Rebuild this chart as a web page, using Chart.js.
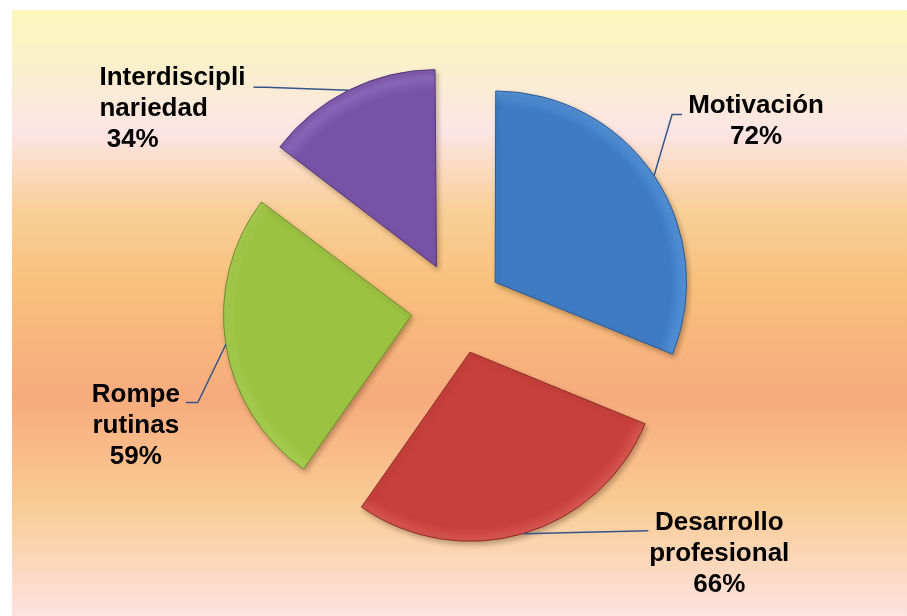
<!DOCTYPE html>
<html>
<head>
<meta charset="utf-8">
<script src="https://cdn.jsdelivr.net/npm/chart.js@4/dist/chart.umd.min.js"></script>
<style>
    html, body { margin: 0; padding: 0; background: #ffffff; }
    #wrap { width: 907px; height: 616px; position: relative; }
</style>
</head>
<body>
<div id="wrap"><canvas id="chartPie"></canvas></div>
<script>
var labels = ['Motivación', 'Desarrollo profesional', 'Rompe rutinas', 'Interdisciplinariedad'];
var values = [72, 66, 59, 34];
var nameLines = [['Motivación'], ['Desarrollo', 'profesional'], ['Rompe', 'rutinas'], ['Interdiscipli', 'nariedad']];

var fillColors = ['#3e7bc3', '#c8403b', '#9bc241', '#7852a6'];
var rimColors = ['#5290d6', '#d85752', '#abd255', '#8866b8'];
var edgeColors = ['#2c5c97', '#8e2b28', '#6c8c2c', '#533a78'];

// leader line and text placement, relative to the point on the arc
var labelPlace = [
    { elbow: [18, -61], end: [28, -61], text: [102, -63], align: 'center' },
    { elbow: null, end: [125, -3], text: [196, -4], align: 'center' },
    { elbow: [-28, 58], end: [-40, 58], text: [-90, 58], align: 'center' },
    { elbow: [-83, -3], end: [-95, -3], text: [-249, -5], align: 'left' }
];

var explode = 46;

function sliceFill(ctx) {
    var chart = ctx.chart;
    var area = chart.chartArea;
    var i = ctx.dataIndex;
    if (!area) return fillColors[i];
    var cx = (area.left + area.right) / 2;
    var cy = (area.top + area.bottom) / 2;
    var g = chart.ctx.createRadialGradient(cx, cy, 0, cx, cy, 200);
    g.addColorStop(0, fillColors[i]);
    g.addColorStop(0.88, fillColors[i]);
    g.addColorStop(0.95, rimColors[i]);
    g.addColorStop(1, fillColors[i]);
    return g;
}

var backdrop = {
    id: 'backdrop',
    beforeDraw: function(chart) {
        var c = chart.ctx;
        c.save();
        var g = c.createLinearGradient(0, 10, 0, 616);
        g.addColorStop(0, '#fbf7bc');
        g.addColorStop(0.08, '#faf1c8');
        g.addColorStop(0.2, '#fce5e5');
        g.addColorStop(0.33, '#f9cf98');
        g.addColorStop(0.45, '#f8c17c');
        g.addColorStop(0.64, '#f7ab7d');
        g.addColorStop(0.82, '#f9cc96');
        g.addColorStop(1, '#fde3df');
        c.fillStyle = g;
        c.fillRect(12, 10, 895, 606);
        c.restore();
    }
};

var shadow = {
    id: 'shadow',
    beforeDatasetsDraw: function(chart) {
        var c = chart.ctx;
        c.save();
        c.shadowColor = 'rgba(60, 30, 0, 0.3)';
        c.shadowBlur = 5;
        c.shadowOffsetX = 2;
        c.shadowOffsetY = 3;
    },
    afterDatasetsDraw: function(chart) {
        chart.ctx.restore();
    }
};

var calloutLabels = {
    id: 'calloutLabels',
    afterDatasetsDraw: function(chart) {
        var c = chart.ctx;
        var meta = chart.getDatasetMeta(0);
        c.save();
        c.font = 'bold 26px "Liberation Sans", Arial, sans-serif';
        c.fillStyle = '#000000';
        c.textBaseline = 'alphabetic';
        meta.data.forEach(function(arc, i) {
            var p = arc.getProps(['x', 'y', 'startAngle', 'endAngle', 'outerRadius', 'circumference'], true);
            var mid = (p.startAngle + p.endAngle) / 2;
            var shift = arc.options.offset / 4;
            var fix = 1 - Math.sin(Math.min(Math.PI, p.circumference));
            var r = p.outerRadius + shift * fix;
            var ax = p.x + Math.cos(mid) * (shift + r);
            var ay = p.y + Math.sin(mid) * (shift + r);
            var place = labelPlace[i];

            c.beginPath();
            c.strokeStyle = '#34548a';
            c.lineWidth = 1.5;
            c.moveTo(ax, ay);
            if (place.elbow) c.lineTo(ax + place.elbow[0], ay + place.elbow[1]);
            c.lineTo(ax + place.end[0], ay + place.end[1]);
            c.stroke();

            var lines = nameLines[i].slice();
            lines.push((place.align == 'left' ? ' ' : '') + values[i] + '%');
            c.textAlign = place.align;
            lines.forEach(function(t, k) {
                c.fillText(t, ax + place.text[0], ay + place.text[1] + k * 31);
            });
        });
        c.restore();
    }
};

var chartPie = new Chart(document.getElementById('chartPie'), {
    type: 'pie',
    data: {
        labels: labels,
        datasets: [{
            data: values,
            backgroundColor: sliceFill,
            borderColor: edgeColors,
            borderWidth: 1,
            offset: explode * 4,
            radius: 188
        }]
    },
    options: {
        responsive: true,
        maintainAspectRatio: false,
        animation: false,
        layout: { padding: { left: 7, right: 0, top: 0, bottom: 0 } },
        plugins: {
            legend: { display: false },
            tooltip: { enabled: false }
        }
    },
    plugins: [backdrop, shadow, calloutLabels]
});
</script>
</body>
</html>
